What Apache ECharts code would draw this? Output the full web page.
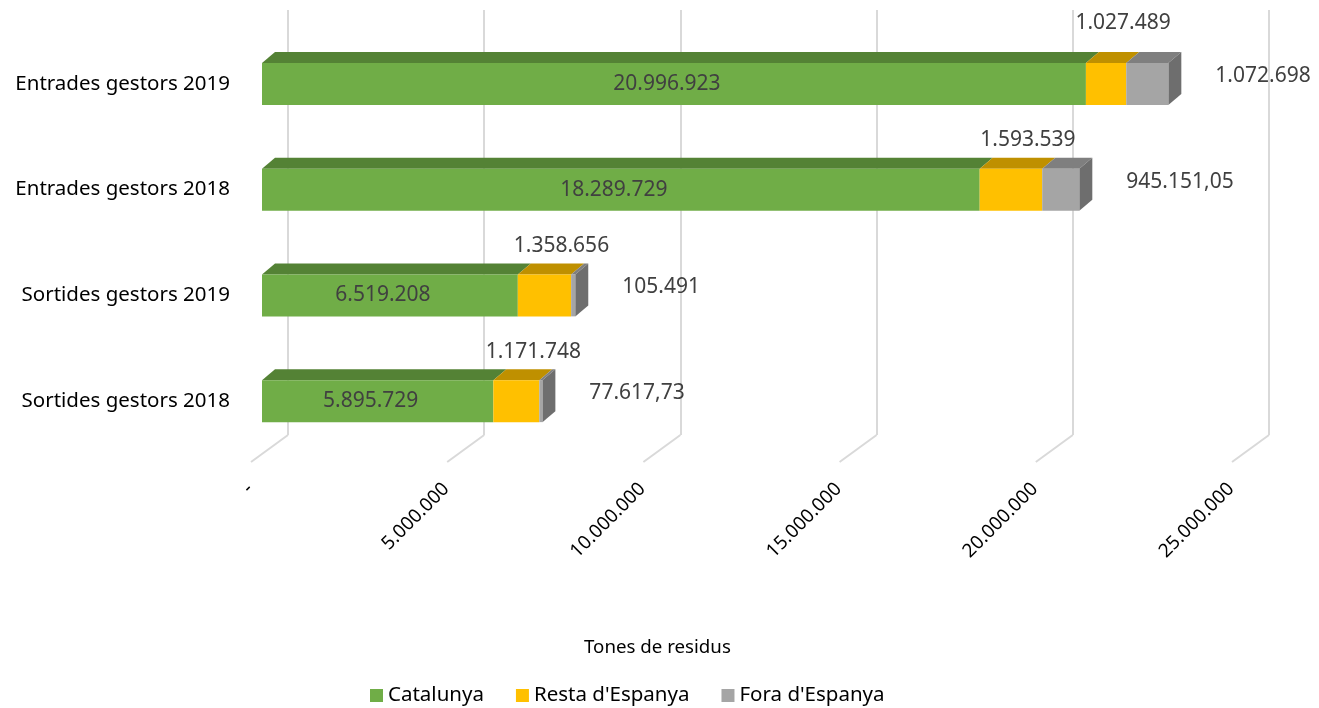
<!DOCTYPE html>
<html>
<head>
<meta charset="utf-8">
<script src="https://cdn.jsdelivr.net/npm/echarts@6/dist/echarts.min.js"></script>
<style>
  html, body { margin: 0; padding: 0; background: #fff; }
  #chart { width: 1319px; height: 708px; }
</style>
</head>
<body>
<div id="chart"></div>
<script>
const categories = ['Entrades gestors 2019', 'Entrades gestors 2018', 'Sortides gestors 2019', 'Sortides gestors 2018'];
const catalunya = [20996923, 18289729, 6519208, 5895729];
const restaEspanya = [1027489, 1593539, 1358656, 1171748];
const foraEspanya = [1072698, 945151.05, 105491, 77617.73];
const tickValues = [0, 5000000, 10000000, 15000000, 20000000, 25000000];

const FONT = '"Noto Sans", sans-serif';
const BAR_H = 42;
const DEPTH_X = 13, DEPTH_Y = 11;

// catalan style number: 1.234.567,89
function fmt(v) {
  if (v === 0) return '-';
  const parts = String(v).split('.');
  const int = parts[0].replace(/\B(?=(\d{3})+(?!\d))/g, '.');
  return parts[1] ? int + ',' + parts[1] : int;
}

const chart = echarts.init(document.getElementById('chart'));

function topFace(x0, x1, yTop, color) {
  return {
    type: 'polygon',
    shape: { points: [[x0, yTop], [x0 + DEPTH_X, yTop - DEPTH_Y], [x1 + DEPTH_X, yTop - DEPTH_Y], [x1, yTop]] },
    style: { fill: color }
  };
}

function render3d(params, api) {
  const idx = api.value(0);
  const c = api.value(1), r = api.value(2), f = api.value(3);
  const p0 = api.coord([0, idx]);
  const x1 = api.coord([c, idx])[0];
  const x2 = api.coord([c + r, idx])[0];
  const x3 = api.coord([c + r + f, idx])[0];
  const yTop = p0[1] - BAR_H / 2;
  const yBot = p0[1] + BAR_H / 2;
  return {
    type: 'group',
    children: [
      topFace(p0[0], x1, yTop, '#548235'),
      topFace(x1, x2, yTop, '#bf9000'),
      topFace(x2, x3, yTop, '#7f7f7f'),
      {
        type: 'polygon',
        shape: { points: [[x3, yTop], [x3 + DEPTH_X, yTop - DEPTH_Y], [x3 + DEPTH_X, yBot - DEPTH_Y], [x3, yBot]] },
        style: { fill: '#6e6e6e' }
      }
    ]
  };
}

function renderFloor(params, api) {
  const p = api.coord([api.value(0), 0]);
  return {
    type: 'line',
    shape: { x1: p[0], y1: p[1], x2: p[0] - 37, y2: p[1] + 27 },
    style: { stroke: '#d9d9d9', lineWidth: 2 }
  };
}

const labelBase = { fontFamily: FONT, fontSize: 21, color: '#404040' };

chart.setOption({
  animation: false,
  textStyle: { fontFamily: FONT },
  title: {
    text: 'Tones de residus',
    left: 579,
    top: 633,
    textStyle: { fontFamily: FONT, fontSize: 18.7, fontWeight: 'normal', color: '#000' }
  },
  legend: {
    data: ['Catalunya', "Resta d'Espanya", "Fora d'Espanya"],
    left: 365,
    top: 680,
    icon: 'rect',
    itemWidth: 13,
    itemHeight: 13,
    itemGap: 32,
    textStyle: { fontFamily: FONT, fontSize: 20.5, color: '#000' }
  },
  grid: [
    { left: 262, width: 981, top: 31, height: 423 },
    { left: 288, width: 981, top: 10, bottom: 273 },
    { left: 250, width: 981, top: 10, bottom: 246 }
  ],
  xAxis: [
    {
      gridIndex: 0, type: 'value', min: 0, max: 25000000, interval: 5000000,
      axisLine: { show: false }, axisTick: { show: false }, axisLabel: { show: false }, splitLine: { show: false }
    },
    {
      gridIndex: 1, type: 'value', min: 0, max: 25000000, interval: 5000000,
      axisLine: { show: false }, axisTick: { show: false }, axisLabel: { show: false },
      splitLine: { show: true, lineStyle: { color: '#d9d9d9', width: 2 } }
    },
    {
      gridIndex: 2, type: 'value', min: 0, max: 25000000, interval: 5000000,
      axisLine: { show: false }, axisTick: { show: false }, splitLine: { show: false },
      axisLabel: { rotate: 45, margin: 24, fontFamily: FONT, fontSize: 19, color: '#000', formatter: fmt }
    }
  ],
  yAxis: [
    {
      gridIndex: 0, type: 'category', inverse: true, data: categories,
      axisLine: { show: false }, axisTick: { show: false },
      axisLabel: { margin: 32, fontFamily: FONT, fontSize: 20.5, color: '#000', padding: [20, 0, 0, 0] }
    },
    { gridIndex: 1, type: 'value', min: 0, max: 1, show: false },
    { gridIndex: 2, type: 'value', min: 0, max: 1, show: false }
  ],
  series: [
    {
      type: 'custom',
      xAxisIndex: 1, yAxisIndex: 1,
      data: tickValues.map((v) => [v]),
      renderItem: renderFloor,
      silent: true,
      z: 1
    },
    {
      name: 'Catalunya', type: 'bar', stack: 'total', barWidth: BAR_H,
      xAxisIndex: 0, yAxisIndex: 0,
      data: catalunya,
      itemStyle: { color: '#70ad47' },
      label: { show: true, position: 'inside', offset: [-7, 0], ...labelBase, formatter: (p) => fmt(p.value) },
      z: 3
    },
    {
      name: "Resta d'Espanya", type: 'bar', stack: 'total', barWidth: BAR_H,
      xAxisIndex: 0, yAxisIndex: 0,
      // the top label sits higher in the source picture
      data: restaEspanya.map((v, i) => (i === 0 ? { value: v, label: { offset: [17, -24] } } : v)),
      itemStyle: { color: '#ffc000' },
      label: { show: true, position: 'top', offset: [17, -13], ...labelBase, formatter: (p) => fmt(p.value) },
      z: 3
    },
    {
      name: "Fora d'Espanya", type: 'bar', stack: 'total', barWidth: BAR_H,
      xAxisIndex: 0, yAxisIndex: 0,
      data: foraEspanya,
      itemStyle: { color: '#a5a5a5' },
      label: { show: true, position: 'right', offset: [42, -8], ...labelBase, formatter: (p) => fmt(p.value) },
      z: 3
    },
    {
      type: 'custom',
      xAxisIndex: 0, yAxisIndex: 0,
      data: categories.map((c, i) => [i, catalunya[i], restaEspanya[i], foraEspanya[i]]),
      encode: { x: [1, 2, 3], y: 0 },
      renderItem: render3d,
      silent: true,
      z: 3
    }
  ]
});
</script>
</body>
</html>
